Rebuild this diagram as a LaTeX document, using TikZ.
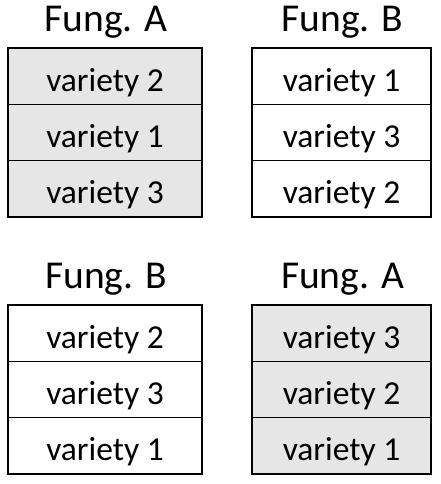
\documentclass[tikz,border=0pt]{standalone}
\usepackage{fontspec}
\setmainfont{Carlito}
\definecolor{shade}{HTML}{E7E6E6}
\begin{document}
\begin{tikzpicture}[x=1pt,y=-1pt,
  cell/.style={draw=black, line width=0.9pt, minimum height=56.3pt, inner sep=0pt,
    text height=30pt, text depth=0pt, font=\fontsize{33.5}{33.5}\selectfont},
  wideA/.style={minimum width=194pt},
  wideB/.style={minimum width=179pt},
  grey/.style={fill=shade},
  title/.style={anchor=base, inner sep=0pt, font=\fontsize{39.5}{39.5}\selectfont},
  frame/.style={draw=black, line width=2pt}]
\useasboundingbox (0,0) rectangle (440,484);
% top left block: Fung. A
\node[title] (t1) at (106,32) {Fung. A};
\node[cell,wideA,grey] (a1) at (105,76.2) {variety 2};
\node[cell,wideA,grey] (a2) at (105,132.5) {variety 1};
\node[cell,wideA,grey] (a3) at (105,188.8) {variety 3};
\draw[frame] (a1.north west) rectangle (a3.south east);
% top right block: Fung. B
\node[title] (t2) at (342.5,32) {Fung. B};
\node[cell,wideB] (b1) at (341.5,76.2) {variety 1};
\node[cell,wideB] (b2) at (341.5,132.5) {variety 3};
\node[cell,wideB] (b3) at (341.5,188.8) {variety 2};
\draw[frame] (b1.north west) rectangle (b3.south east);
% bottom left block: Fung. B
\node[title] (t3) at (106,288.5) {Fung. B};
\node[cell,wideA] (c1) at (105,333.2) {variety 2};
\node[cell,wideA] (c2) at (105,389.5) {variety 3};
\node[cell,wideA] (c3) at (105,445.8) {variety 1};
\draw[frame] (c1.north west) rectangle (c3.south east);
% bottom right block: Fung. A
\node[title] (t4) at (342.5,288.5) {Fung. A};
\node[cell,wideB,grey] (d1) at (341.5,333.2) {variety 3};
\node[cell,wideB,grey] (d2) at (341.5,389.5) {variety 2};
\node[cell,wideB,grey] (d3) at (341.5,445.8) {variety 1};
\draw[frame] (d1.north west) rectangle (d3.south east);
\end{tikzpicture}
\end{document}
